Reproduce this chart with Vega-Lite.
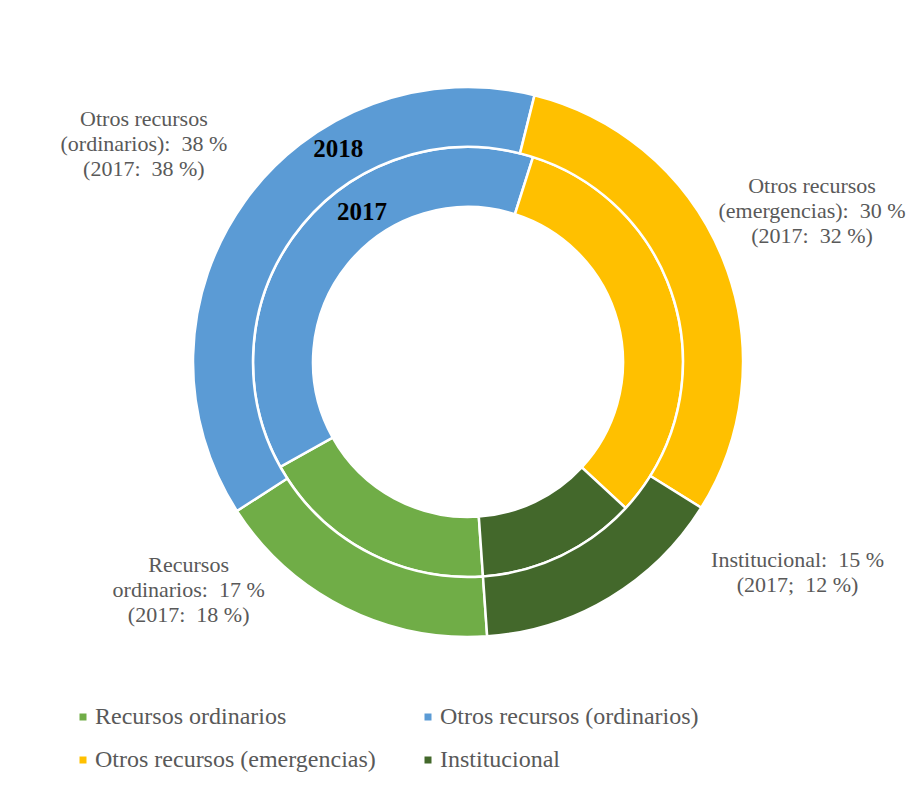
{
  "$schema": "https://vega.github.io/schema/vega-lite/v6.json",
  "width": 886,
  "height": 700,
  "padding": {"left": 25, "top": 12, "right": 0, "bottom": 0},
  "background": "white",
  "datasets": {
    "fondos": [
      {"anio": "2018", "categoria": "Recursos ordinarios", "porcentaje": 17, "orden": 1, "etiqueta": "Recursos\nordinarios:\u00a0 17\u00a0%\n(2017:\u00a0 18\u00a0%)"},
      {"anio": "2018", "categoria": "Otros recursos (ordinarios)", "porcentaje": 38, "orden": 2, "etiqueta": "Otros recursos\n(ordinarios):\u00a0 38\u00a0%\n(2017:\u00a0 38\u00a0%)"},
      {"anio": "2018", "categoria": "Otros recursos (emergencias)", "porcentaje": 30, "orden": 3, "etiqueta": "Otros recursos\n(emergencias):\u00a0 30\u00a0%\n(2017:\u00a0 32\u00a0%)"},
      {"anio": "2018", "categoria": "Institucional", "porcentaje": 15, "orden": 4, "etiqueta": "Institucional:\u00a0 15\u00a0%\n(2017;\u00a0 12\u00a0%)"},
      {"anio": "2017", "categoria": "Recursos ordinarios", "porcentaje": 18, "orden": 1, "etiqueta": ""},
      {"anio": "2017", "categoria": "Otros recursos (ordinarios)", "porcentaje": 38, "orden": 2, "etiqueta": ""},
      {"anio": "2017", "categoria": "Otros recursos (emergencias)", "porcentaje": 32, "orden": 3, "etiqueta": ""},
      {"anio": "2017", "categoria": "Institucional", "porcentaje": 12, "orden": 4, "etiqueta": ""}
    ],
    "anios": [
      {"anio": "2018"},
      {"anio": "2017"}
    ]
  },
  "data": {"name": "fondos"},
  "layer": [
    {
      "transform": [{"filter": "datum.anio === '2017'"}],
      "mark": {"type": "arc", "radius": 215, "radius2": 155, "stroke": "white", "strokeWidth": 2.5},
      "encoding": {
        "theta": {"field": "porcentaje", "type": "quantitative", "stack": true, "scale": {"range": [3.0718, 9.3550]}},
        "order": {"field": "orden", "type": "quantitative"},
        "color": {"field": "categoria", "type": "nominal", "scale": {"domain": ["Recursos ordinarios", "Otros recursos (ordinarios)", "Otros recursos (emergencias)", "Institucional"], "range": ["#70AD47", "#5B9BD5", "#FFC000", "#43682B"]}, "legend": {"title": null}}
      }
    },
    {
      "transform": [{"filter": "datum.anio === '2018'"}],
      "mark": {"type": "arc", "radius": 275, "radius2": 215, "stroke": "white", "strokeWidth": 2.5},
      "encoding": {
        "theta": {"field": "porcentaje", "type": "quantitative", "stack": true, "scale": {"range": [3.0718, 9.3550]}},
        "order": {"field": "orden", "type": "quantitative"},
        "color": {"field": "categoria", "type": "nominal"}
      }
    },
    {
      "transform": [{"filter": "datum.anio === '2018'"}],
      "mark": {"type": "text", "radius": 390, "dx": -7, "dy": -16, "font": "Liberation Serif", "fontSize": 22, "lineHeight": 25, "lineBreak": "\n", "color": "#595959", "align": "center", "baseline": "middle"},
      "encoding": {
        "theta": {"field": "porcentaje", "type": "quantitative", "stack": true},
        "order": {"field": "orden", "type": "quantitative"},
        "text": {"condition": {"test": "datum.categoria === 'Otros recursos (ordinarios)'", "field": "etiqueta"}, "value": ""}
      }
    },
    {
      "transform": [{"filter": "datum.anio === '2018'"}],
      "mark": {"type": "text", "radius": 371, "dx": 0, "dy": -37, "font": "Liberation Serif", "fontSize": 22, "lineHeight": 25, "lineBreak": "\n", "color": "#595959", "align": "center", "baseline": "middle"},
      "encoding": {
        "theta": {"field": "porcentaje", "type": "quantitative", "stack": true},
        "order": {"field": "orden", "type": "quantitative"},
        "text": {"condition": {"test": "datum.categoria === 'Otros recursos (emergencias)'", "field": "etiqueta"}, "value": ""}
      }
    },
    {
      "transform": [{"filter": "datum.anio === '2018'"}],
      "mark": {"type": "text", "radius": 300, "dx": 175, "dy": -59, "font": "Liberation Serif", "fontSize": 22, "lineHeight": 25, "lineBreak": "\n", "color": "#595959", "align": "center", "baseline": "middle"},
      "encoding": {
        "theta": {"field": "porcentaje", "type": "quantitative", "stack": true},
        "order": {"field": "orden", "type": "quantitative"},
        "text": {"condition": {"test": "datum.categoria === 'Institucional'", "field": "etiqueta"}, "value": ""}
      }
    },
    {
      "transform": [{"filter": "datum.anio === '2018'"}],
      "mark": {"type": "text", "radius": 300, "dx": -145, "dy": -65, "font": "Liberation Serif", "fontSize": 22, "lineHeight": 25, "lineBreak": "\n", "color": "#595959", "align": "center", "baseline": "middle"},
      "encoding": {
        "theta": {"field": "porcentaje", "type": "quantitative", "stack": true},
        "order": {"field": "orden", "type": "quantitative"},
        "text": {"condition": {"test": "datum.categoria === 'Recursos ordinarios'", "field": "etiqueta"}, "value": ""}
      }
    },
    {
      "data": {"name": "anios"},
      "transform": [{"filter": "datum.anio === '2018'"}],
      "mark": {"type": "text", "theta": 5.735, "radius": 249, "font": "Liberation Serif", "fontSize": 25, "fontWeight": "bold", "color": "black", "align": "center", "baseline": "middle"},
      "encoding": {"text": {"field": "anio", "type": "nominal"}}
    },
    {
      "data": {"name": "anios"},
      "transform": [{"filter": "datum.anio === '2017'"}],
      "mark": {"type": "text", "theta": 5.669, "radius": 184, "font": "Liberation Serif", "fontSize": 25, "fontWeight": "bold", "color": "black", "align": "center", "baseline": "middle"},
      "encoding": {"text": {"field": "anio", "type": "nominal"}}
    }
  ],
  "config": {
    "view": {"stroke": null},
    "legend": {
      "orient": "none",
      "legendX": 46,
      "legendY": 693,
      "direction": "horizontal",
      "columns": 2,
      "symbolType": "square",
      "symbolSize": 49,
      "symbolStrokeWidth": 0,
      "labelFont": "Liberation Serif",
      "labelFontSize": 24,
      "labelColor": "#595959",
      "labelLimit": 400,
      "labelOffset": 0,
      "columnPadding": 40,
      "rowPadding": 19
    }
  }
}
